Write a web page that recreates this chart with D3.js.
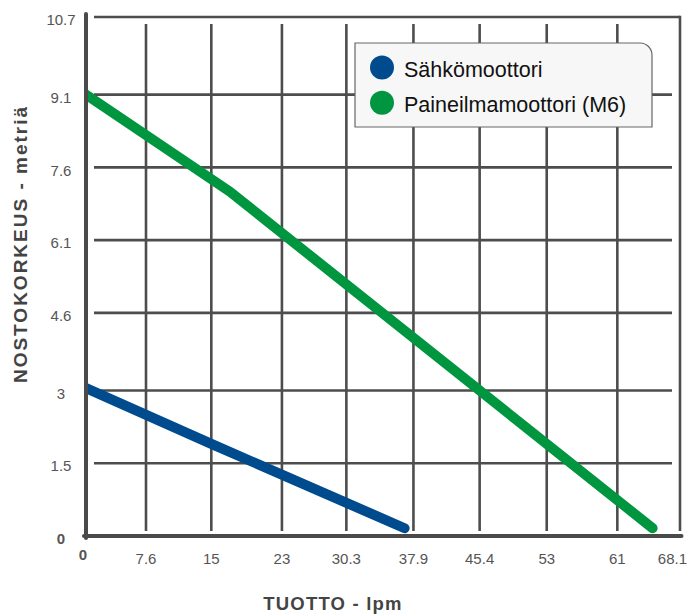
<!DOCTYPE html>
<html><head><meta charset="utf-8">
<script src="https://cdn.jsdelivr.net/npm/d3@7"></script>
<style>body{margin:0;background:#fff}svg{display:block}text{font-family:"Liberation Sans",Arial,sans-serif}</style>
</head><body><svg id="c" width="689" height="615"></svg>
<script>
const xTicks = [0, 7.6, 15, 23, 30.3, 37.9, 45.4, 53, 61, 68.1];
const yTicks = [0, 1.5, 3, 4.6, 6.1, 7.6, 9.1, 10.7];
const seriesNames = ["Sähkömoottori", "Paineilmamoottori (M6)"];
const seriesColors = ["#004b8d", "#009640"];
const electricX = [0, 15, 36.9];
const electricY = [3.05, 1.9, 0.16];
const airX = [0, 17.1, 65];
const airY = [9.1, 7.1, 0.16];

const svg = d3.select("#c");
const x = d3.scaleLinear().domain([0, 7.6, 68.1]).range([86, 146, 680]);
const y = d3.scaleLinear().domain([0, 10.7]).range([536, 17]);
const gridCol = "#4d4d4d";

// horizontal grid
const g = svg.append("g");
g.selectAll(".hg").data(yTicks.slice(1)).join("line")
  .attr("x1", x(0) + 8).attr("x2", d => d === 10.7 ? x(68.1) : x(68.1) - 8)
  .attr("y1", d => y(d)).attr("y2", d => y(d))
  .attr("stroke", gridCol).attr("stroke-width", 2.6);
// vertical grid
g.selectAll(".vg").data(xTicks.slice(1)).join("line")
  .attr("x1", d => x(d)).attr("x2", d => x(d))
  .attr("y1", d => d === 68.1 ? y(10.7) - 1.3 : y(10.7) + 7).attr("y2", y(0) - 5)
  .attr("stroke", gridCol).attr("stroke-width", 2.6);

// clip for lines
svg.append("clipPath").attr("id", "clip").append("rect")
  .attr("x", x(0) + 2).attr("y", 0).attr("width", 700).attr("height", y(0) - 2);

const line = d3.line().x(d => x(d[0])).y(d => y(d[1]));
const series = [d3.zip(electricX, electricY), d3.zip(airX, airY)];
svg.append("g").attr("clip-path", "url(#clip)").selectAll("path").data(series).join("path")
  .attr("d", line).attr("fill", "none")
  .attr("stroke", (d, i) => seriesColors[i]).attr("stroke-width", 10)
  .attr("stroke-linecap", "round").attr("stroke-linejoin", "round");

// axes
svg.append("line").attr("x1", x(0)).attr("x2", x(0)).attr("y1", y(10.7) - 3).attr("y2", y(0) + 2)
  .attr("stroke", "#4a4a4a").attr("stroke-width", 4).attr("stroke-linecap", "round");
svg.append("line").attr("x1", x(0) - 2).attr("x2", x(68.1) + 1.5).attr("y1", y(0)).attr("y2", y(0))
  .attr("stroke", "#4a4a4a").attr("stroke-width", 4).attr("stroke-linecap", "round");

// tick labels
svg.selectAll(".yl").data(yTicks).join("text")
  .attr("x", 61).attr("y", d => y(d) + 3).attr("dy", "0.35em")
  .attr("text-anchor", "middle").attr("font-size", 15)
  .attr("font-weight", d => d === 0 ? "bold" : "normal")
  .attr("fill", "#555").text(d => d);
svg.selectAll(".xl").data(xTicks).join("text")
  .attr("x", d => d === 0 ? x(d) - 3 : (d === 68.1 ? 687 : x(d)))
  .attr("y", d => d === 0 ? 554.5 : 559).attr("dy", "0.35em")
  .attr("text-anchor", d => d === 68.1 ? "end" : "middle").attr("font-size", 15)
  .attr("font-weight", d => d === 0 ? "bold" : "normal")
  .attr("fill", "#555").text(d => d);

// axis titles
svg.append("text").attr("x", 333).attr("y", 610).attr("text-anchor", "middle")
  .attr("font-size", 18.5).attr("font-weight", "bold").attr("fill", "#444")
  .attr("letter-spacing", 1.2).text("TUOTTO - lpm");
svg.append("text").attr("transform", "translate(27,244) rotate(-90)").attr("text-anchor", "middle")
  .attr("font-size", 19).attr("font-weight", "bold").attr("fill", "#444")
  .attr("letter-spacing", 2).text("NOSTOKORKEUS - metriä");

// legend
const lx0 = 355, ly0 = 43, lx1 = 652, ly1 = 127, r = 12;
svg.append("path")
  .attr("d", `M${lx0},${ly0}H${lx1 - r}A${r},${r} 0 0 1 ${lx1},${ly0 + r}V${ly1}H${lx0}Z`)
  .attr("fill", "#f7f7f7").attr("stroke", "#666").attr("stroke-width", 1.2);
const leg = svg.selectAll(".lg").data(seriesNames).join("g")
  .attr("transform", (d, i) => `translate(382,${67.5 + i * 35.3})`);
leg.append("circle").attr("r", 12).attr("fill", (d, i) => seriesColors[i]);
leg.append("text").attr("x", 22).attr("y", 9.5).attr("font-size", 21.5).attr("fill", "#111").text(d => d);
</script></body></html>
